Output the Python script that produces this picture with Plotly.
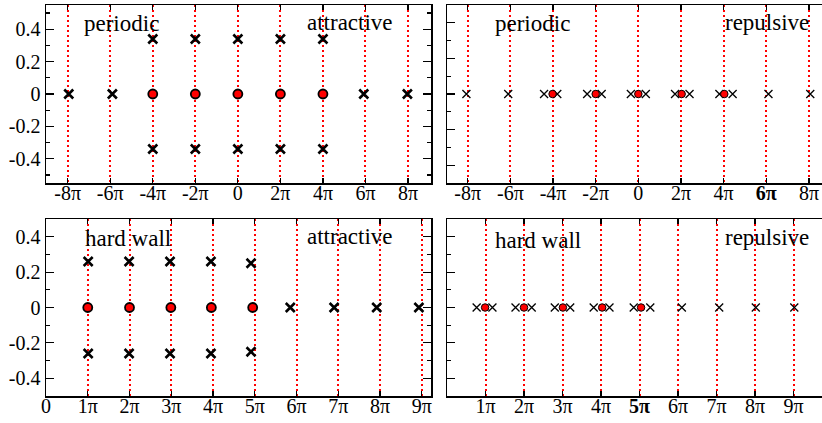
import plotly.graph_objects as go

# ---------------- data (x in units of pi) ----------------
# top-left: periodic, attractive
pa_cross_x = [-7.95, -5.9, 5.92, 7.97, -4, -2, 0, 2, 4, -4, -2, 0, 2, 4]
pa_cross_y = [0, 0, 0, 0, 0.34, 0.34, 0.34, 0.34, 0.34, -0.34, -0.34, -0.34, -0.34, -0.34]
pa_dot_x = [-4, -2, 0, 2, 4]
pa_dot_y = [0, 0, 0, 0, 0]

# top-right: periodic, repulsive
pr_cross_x = [-8.06, -6.1, -4.42, -3.8, -2.4, -1.72, -0.35, 0.35, 1.72, 2.4, 3.8, 4.42, 6.1, 8.06]
pr_cross_y = [0] * 14
pr_dot_x = [-4.02, -2.0, 0, 2.03, 4.03]
pr_dot_y = [0, 0, 0, 0, 0]

# bottom-left: hard wall, attractive
ha_cross_x = [1.01, 1.99, 2.97, 3.95, 4.91, 1.01, 1.99, 2.97, 3.95, 4.91, 5.85, 6.9, 7.92, 8.93]
ha_cross_y = [0.26, 0.26, 0.26, 0.26, 0.25, -0.26, -0.26, -0.26, -0.26, -0.25, 0, 0, 0, 0]
ha_dot_x = [1.0, 2.0, 2.99, 3.96, 4.95]
ha_dot_y = [0, 0, 0, 0, 0]

# bottom-right: hard wall, repulsive
hr_cross_x = [0.77, 1.18, 1.78, 2.2, 2.8, 3.2, 3.81, 4.22, 4.85, 5.28, 6.1, 7.07, 8.02, 9.02]
hr_cross_y = [0] * 14
hr_dot_x = [0.99, 2.0, 3.01, 4.03, 5.04]
hr_dot_y = [0, 0, 0, 0, 0]

# tick labels
top_tickvals = [-8, -6, -4, -2, 0, 2, 4, 6, 8]
top_ticktext_left = ["-8π", "-6π", "-4π", "-2π", "0", "2π", "4π", "6π", "8π"]
top_ticktext_right = ["-8π", "-6π", "-4π", "-2π", "0", "2π", "4π", "<b>6π</b>", "8π"]
bl_tickvals = [0, 1, 2, 3, 4, 5, 6, 7, 8, 9]
bl_ticktext = ["0", "1π", "2π", "3π", "4π", "5π", "6π", "7π", "8π", "9π"]
br_tickvals = [1, 2, 3, 4, 5, 6, 7, 8, 9]
br_ticktext = ["1π", "2π", "3π", "4π", "<b>5π</b>", "6π", "7π", "8π", "9π"]
y_tickvals = [-0.4, -0.2, 0, 0.2, 0.4]
y_ticktext = ["-0.4", "-0.2", "0", "0.2", "0.4"]
y_minor_vals = [-0.5, -0.3, -0.1, 0.1, 0.3, 0.5]

W, H = 822, 423
FONT = "Liberation Serif"

fig = go.Figure()

def add_panel(cx, cy, dx, dy, xa, ya, bold):
    xs = "x" if xa == 1 else f"x{xa}"
    ys = "y" if ya == 1 else f"y{ya}"
    if bold:
        cross = dict(symbol="x-thin", size=9, line=dict(width=2.6, color="black"), color="black")
        dot = dict(symbol="circle", size=9, color="#ff0000", line=dict(width=1.8, color="black"))
    else:
        cross = dict(symbol="x-thin", size=8, line=dict(width=1.3, color="black"), color="black")
        dot = dict(symbol="circle", size=7.5, color="#ff0000", line=dict(width=1, color="black"))
    fig.add_trace(go.Scatter(x=cx, y=cy, mode="markers", marker=cross, xaxis=xs, yaxis=ys,
                             showlegend=False, hoverinfo="skip", cliponaxis=False))
    fig.add_trace(go.Scatter(x=dx, y=dy, mode="markers", marker=dot, xaxis=xs, yaxis=ys,
                             showlegend=False, hoverinfo="skip", cliponaxis=False))

add_panel(pa_cross_x, pa_cross_y, pa_dot_x, pa_dot_y, 1, 1, True)
add_panel(pr_cross_x, pr_cross_y, pr_dot_x, pr_dot_y, 2, 2, False)
add_panel(ha_cross_x, ha_cross_y, ha_dot_x, ha_dot_y, 3, 3, True)
add_panel(hr_cross_x, hr_cross_y, hr_dot_x, hr_dot_y, 4, 4, False)

tickfont = dict(family=FONT, size=20, color="black")

def xaxis(domain, rng, tv, tt, anchor):
    return dict(domain=domain, range=rng, tickvals=tv, ticktext=tt, anchor=anchor,
                showgrid=True, gridcolor="#ff0000", gridwidth=2, griddash="2px,3px",
                showline=True, linecolor="black", linewidth=1.5, mirror="allticks",
                ticks="inside", ticklen=5, tickwidth=1.2, tickcolor="black",
                zeroline=False, tickfont=tickfont, fixedrange=True,
                automargin=False, ticklabelstandoff=-9)

def yaxis(domain, rng, labels, mirror, anchor):
    return dict(domain=domain, range=rng, tickvals=y_tickvals,
                ticktext=y_ticktext, showticklabels=labels, anchor=anchor,
                showgrid=False, zeroline=False,
                showline=True, linecolor="black", linewidth=1.5, mirror=mirror,
                ticks="inside", ticklen=8, tickwidth=1.2, tickcolor="black",
                minor=dict(tickvals=y_minor_vals, ticks="inside",
                           ticklen=4, tickwidth=1.2, tickcolor="black", showgrid=False),
                tickfont=tickfont, fixedrange=True, automargin=False)

def px(x):
    return x / W

def py(y):
    return 1 - y / H

xl = [px(46), px(431)]
xr = [px(447), 1.0]
yt = [py(183), py(5)]
yb = [py(396), py(219)]

fig.update_layout(
    width=W, height=H, margin=dict(l=0, r=0, t=0, b=0, autoexpand=False),
    paper_bgcolor="white", plot_bgcolor="white",
    xaxis=xaxis(xl, [-9.02, 9.08], top_tickvals, top_ticktext_left, "y"),
    yaxis=yaxis(yt, [-0.55, 0.55], True, "allticks", "x"),
    xaxis2=xaxis(xr, [-8.97, 8.61], top_tickvals, top_ticktext_right, "y2"),
    yaxis2=yaxis(yt, [-0.5, 0.5], False, False, "x2"),
    xaxis3=xaxis(xl, [0, 9.22], bl_tickvals, bl_ticktext, "y3"),
    yaxis3=yaxis(yb, [-0.5, 0.5], True, "allticks", "x3"),
    xaxis4=xaxis(xr, [0, 9.74], br_tickvals, br_ticktext, "y4"),
    yaxis4=yaxis(yb, [-0.5, 0.5], False, False, "x4"),
)

labels = [
    ("periodic", 82, 24, "left"),
    ("attractive", 395, 23, "right"),
    ("periodic", 493, 24, "left"),
    ("repulsive", 811, 23, "right"),
    ("hard wall", 83, 238, "left"),
    ("attractive", 395, 236, "right"),
    ("hard wall", 493, 240, "left"),
    ("repulsive", 811, 237, "right"),
]
for text, x, y, anc in labels:
    fig.add_annotation(text=text, x=px(x), y=py(y), xref="paper", yref="paper",
                       xanchor=anc, yanchor="middle", showarrow=False,
                       font=dict(family=FONT, size=23, color="black"))

fig.write_html("out.html", config={"displayModeBar": False, "staticPlot": True},
               post_script="document.body.style.margin='0';document.body.style.overflow='hidden';")
